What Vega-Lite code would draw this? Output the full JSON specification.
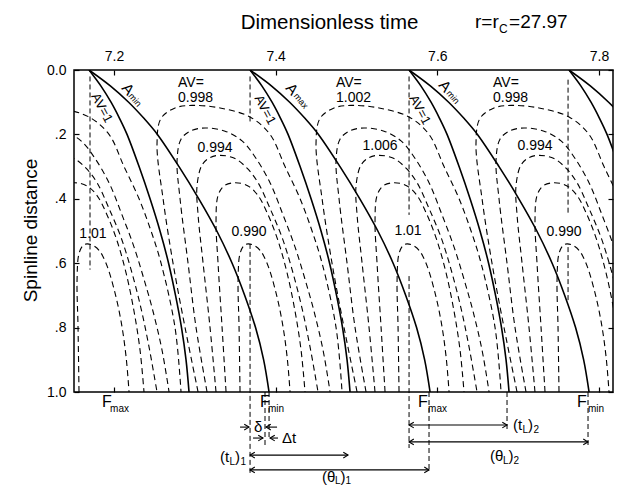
{
  "$schema": "https://vega.github.io/schema/vega-lite/v6.json",
  "width": 539,
  "height": 322,
  "autosize": {"type": "none"},
  "padding": {"left": 74, "top": 70, "right": 8, "bottom": 95},
  "background": "white",
  "config": {
    "font": "Liberation Sans",
    "view": {"stroke": "black", "strokeWidth": 1.5},
    "axis": {"domain": false, "grid": false, "tickColor": "black", "tickWidth": 1.2, "labelColor": "black", "titleColor": "black", "titleFontWeight": "normal"}
  },
  "datasets": {
    "solid": [
      {"c":"v1","t":7.1691,"d":0},{"c":"v1","t":7.1839,"d":0.05},{"c":"v1","t":7.1963,"d":0.1},{"c":"v1","t":7.2068,"d":0.15},{"c":"v1","t":7.2161,"d":0.2},{"c":"v1","t":7.231,"d":0.3},{"c":"v1","t":7.2446,"d":0.4},{"c":"v1","t":7.2569,"d":0.5},{"c":"v1","t":7.2675,"d":0.6},{"c":"v1","t":7.2761,"d":0.7},{"c":"v1","t":7.2835,"d":0.8},{"c":"v1","t":7.2891,"d":0.9},{"c":"v1","t":7.2928,"d":1},
      {"c":"a1","t":7.1691,"d":0},{"c":"a1","t":7.1958,"d":0.05},{"c":"a1","t":7.2181,"d":0.1},{"c":"a1","t":7.237,"d":0.15},{"c":"a1","t":7.2537,"d":0.2},{"c":"a1","t":7.2804,"d":0.3},{"c":"a1","t":7.3049,"d":0.4},{"c":"a1","t":7.3272,"d":0.5},{"c":"a1","t":7.3461,"d":0.6},{"c":"a1","t":7.3617,"d":0.7},{"c":"a1","t":7.3751,"d":0.8},{"c":"a1","t":7.3851,"d":0.9},{"c":"a1","t":7.3918,"d":1},
      {"c":"v2","t":7.3683,"d":0},{"c":"v2","t":7.3831,"d":0.05},{"c":"v2","t":7.3955,"d":0.1},{"c":"v2","t":7.406,"d":0.15},{"c":"v2","t":7.4153,"d":0.2},{"c":"v2","t":7.4302,"d":0.3},{"c":"v2","t":7.4438,"d":0.4},{"c":"v2","t":7.4561,"d":0.5},{"c":"v2","t":7.4667,"d":0.6},{"c":"v2","t":7.4753,"d":0.7},{"c":"v2","t":7.4827,"d":0.8},{"c":"v2","t":7.4883,"d":0.9},{"c":"v2","t":7.492,"d":1},
      {"c":"a2","t":7.3683,"d":0},{"c":"a2","t":7.395,"d":0.05},{"c":"a2","t":7.4173,"d":0.1},{"c":"a2","t":7.4362,"d":0.15},{"c":"a2","t":7.4529,"d":0.2},{"c":"a2","t":7.4796,"d":0.3},{"c":"a2","t":7.5041,"d":0.4},{"c":"a2","t":7.5264,"d":0.5},{"c":"a2","t":7.5453,"d":0.6},{"c":"a2","t":7.5609,"d":0.7},{"c":"a2","t":7.5743,"d":0.8},{"c":"a2","t":7.5843,"d":0.9},{"c":"a2","t":7.591,"d":1},
      {"c":"v3","t":7.565,"d":0},{"c":"v3","t":7.5798,"d":0.05},{"c":"v3","t":7.5922,"d":0.1},{"c":"v3","t":7.6027,"d":0.15},{"c":"v3","t":7.612,"d":0.2},{"c":"v3","t":7.6269,"d":0.3},{"c":"v3","t":7.6405,"d":0.4},{"c":"v3","t":7.6528,"d":0.5},{"c":"v3","t":7.6634,"d":0.6},{"c":"v3","t":7.672,"d":0.7},{"c":"v3","t":7.6794,"d":0.8},{"c":"v3","t":7.685,"d":0.9},{"c":"v3","t":7.6887,"d":1},
      {"c":"a3","t":7.565,"d":0},{"c":"a3","t":7.5917,"d":0.05},{"c":"a3","t":7.614,"d":0.1},{"c":"a3","t":7.6329,"d":0.15},{"c":"a3","t":7.6496,"d":0.2},{"c":"a3","t":7.6763,"d":0.3},{"c":"a3","t":7.7008,"d":0.4},{"c":"a3","t":7.7231,"d":0.5},{"c":"a3","t":7.742,"d":0.6},{"c":"a3","t":7.7576,"d":0.7},{"c":"a3","t":7.771,"d":0.8},{"c":"a3","t":7.781,"d":0.9},{"c":"a3","t":7.7877,"d":1},
      {"c":"v4","t":7.7629,"d":0},{"c":"v4","t":7.7777,"d":0.05},{"c":"v4","t":7.7901,"d":0.1},{"c":"v4","t":7.8006,"d":0.15},{"c":"v4","t":7.8099,"d":0.2},{"c":"v4","t":7.8248,"d":0.3},{"c":"v4","t":7.8384,"d":0.4},
      {"c":"a4","t":7.7629,"d":0},{"c":"a4","t":7.7896,"d":0.05},{"c":"a4","t":7.8119,"d":0.1},{"c":"a4","t":7.8308,"d":0.15},{"c":"a4","t":7.8475,"d":0.2}
    ],
    "contours": [
      {"c":"Z0","i":7,"t":7.0763,"d":0.118},{"c":"Z0","i":8,"t":7.0973,"d":0.11},{"c":"Z0","i":9,"t":7.132,"d":0.118},{"c":"Z0","i":10,"t":7.1691,"d":0.146},{"c":"Z0","i":11,"t":7.1938,"d":0.2},{"c":"Z0","i":12,"t":7.2124,"d":0.3},{"c":"Z0","i":13,"t":7.231,"d":0.4},{"c":"Z0","i":14,"t":7.2458,"d":0.5},{"c":"Z0","i":15,"t":7.2582,"d":0.6},{"c":"Z0","i":16,"t":7.2755,"d":0.8},{"c":"Z0","i":17,"t":7.2829,"d":1},
      {"c":"Z1","i":7,"t":7.0949,"d":0.19},{"c":"Z1","i":8,"t":7.1134,"d":0.18},{"c":"Z1","i":9,"t":7.1382,"d":0.19},{"c":"Z1","i":10,"t":7.1592,"d":0.22},{"c":"Z1","i":11,"t":7.1753,"d":0.27},{"c":"Z1","i":12,"t":7.1938,"d":0.35},{"c":"Z1","i":13,"t":7.2099,"d":0.45},{"c":"Z1","i":14,"t":7.2248,"d":0.55},{"c":"Z1","i":15,"t":7.2371,"d":0.65},{"c":"Z1","i":16,"t":7.2483,"d":0.75},{"c":"Z1","i":17,"t":7.2594,"d":0.87},{"c":"Z1","i":18,"t":7.2681,"d":1},
      {"c":"Z2","i":7,"t":7.1196,"d":0.272},{"c":"Z2","i":8,"t":7.132,"d":0.265},{"c":"Z2","i":9,"t":7.1505,"d":0.275},{"c":"Z2","i":10,"t":7.1654,"d":0.305},{"c":"Z2","i":11,"t":7.179,"d":0.35},{"c":"Z2","i":12,"t":7.1938,"d":0.43},{"c":"Z2","i":13,"t":7.2087,"d":0.52},{"c":"Z2","i":14,"t":7.2211,"d":0.62},{"c":"Z2","i":15,"t":7.2334,"d":0.74},{"c":"Z2","i":16,"t":7.2433,"d":0.86},{"c":"Z2","i":17,"t":7.2532,"d":1},
      {"c":"Z3","i":5,"t":7.1295,"d":0.39},{"c":"Z3","i":6,"t":7.1369,"d":0.36},{"c":"Z3","i":7,"t":7.1505,"d":0.35},{"c":"Z3","i":8,"t":7.1666,"d":0.36},{"c":"Z3","i":9,"t":7.179,"d":0.39},{"c":"Z3","i":10,"t":7.1914,"d":0.45},{"c":"Z3","i":11,"t":7.2037,"d":0.53},{"c":"Z3","i":12,"t":7.2149,"d":0.63},{"c":"Z3","i":13,"t":7.2248,"d":0.75},{"c":"Z3","i":14,"t":7.2322,"d":0.87},{"c":"Z3","i":15,"t":7.2371,"d":1},
      {"c":"Z4","i":1,"t":7.1567,"d":1},{"c":"Z4","i":2,"t":7.1555,"d":0.8},{"c":"Z4","i":3,"t":7.1543,"d":0.65},{"c":"Z4","i":4,"t":7.1567,"d":0.57},{"c":"Z4","i":5,"t":7.1617,"d":0.545},{"c":"Z4","i":6,"t":7.1666,"d":0.54},{"c":"Z4","i":7,"t":7.174,"d":0.545},{"c":"Z4","i":8,"t":7.1815,"d":0.56},{"c":"Z4","i":9,"t":7.1901,"d":0.6},{"c":"Z4","i":10,"t":7.2,"d":0.68},{"c":"Z4","i":11,"t":7.2087,"d":0.78},{"c":"Z4","i":12,"t":7.2149,"d":0.89},{"c":"Z4","i":13,"t":7.2186,"d":1},

      {"c":"A0","i":1,"t":7.304,"d":1},{"c":"A0","i":2,"t":7.2879,"d":0.8},{"c":"A0","i":3,"t":7.273,"d":0.6},{"c":"A0","i":4,"t":7.2607,"d":0.4},{"c":"A0","i":5,"t":7.2532,"d":0.23},{"c":"A0","i":6,"t":7.2582,"d":0.15},{"c":"A0","i":7,"t":7.2755,"d":0.118},{"c":"A0","i":8,"t":7.2965,"d":0.11},{"c":"A0","i":9,"t":7.3312,"d":0.118},{"c":"A0","i":10,"t":7.3683,"d":0.146},{"c":"A0","i":11,"t":7.393,"d":0.2},{"c":"A0","i":12,"t":7.4116,"d":0.3},{"c":"A0","i":13,"t":7.4302,"d":0.4},{"c":"A0","i":14,"t":7.445,"d":0.5},{"c":"A0","i":15,"t":7.4574,"d":0.6},{"c":"A0","i":16,"t":7.4747,"d":0.8},{"c":"A0","i":17,"t":7.4821,"d":1},
      {"c":"A1","i":1,"t":7.3151,"d":1},{"c":"A1","i":2,"t":7.3015,"d":0.8},{"c":"A1","i":3,"t":7.2916,"d":0.6},{"c":"A1","i":4,"t":7.2817,"d":0.4},{"c":"A1","i":5,"t":7.278,"d":0.28},{"c":"A1","i":6,"t":7.2829,"d":0.215},{"c":"A1","i":7,"t":7.2941,"d":0.19},{"c":"A1","i":8,"t":7.3126,"d":0.18},{"c":"A1","i":9,"t":7.3374,"d":0.19},{"c":"A1","i":10,"t":7.3584,"d":0.22},{"c":"A1","i":11,"t":7.3745,"d":0.27},{"c":"A1","i":12,"t":7.393,"d":0.35},{"c":"A1","i":13,"t":7.4091,"d":0.45},{"c":"A1","i":14,"t":7.424,"d":0.55},{"c":"A1","i":15,"t":7.4363,"d":0.65},{"c":"A1","i":16,"t":7.4475,"d":0.75},{"c":"A1","i":17,"t":7.4586,"d":0.87},{"c":"A1","i":18,"t":7.4673,"d":1},
      {"c":"A2","i":1,"t":7.3262,"d":1},{"c":"A2","i":2,"t":7.3188,"d":0.8},{"c":"A2","i":3,"t":7.3102,"d":0.6},{"c":"A2","i":4,"t":7.304,"d":0.45},{"c":"A2","i":5,"t":7.3027,"d":0.36},{"c":"A2","i":6,"t":7.3089,"d":0.295},{"c":"A2","i":7,"t":7.3188,"d":0.272},{"c":"A2","i":8,"t":7.3312,"d":0.265},{"c":"A2","i":9,"t":7.3497,"d":0.275},{"c":"A2","i":10,"t":7.3646,"d":0.305},{"c":"A2","i":11,"t":7.3782,"d":0.35},{"c":"A2","i":12,"t":7.393,"d":0.43},{"c":"A2","i":13,"t":7.4079,"d":0.52},{"c":"A2","i":14,"t":7.4203,"d":0.62},{"c":"A2","i":15,"t":7.4326,"d":0.74},{"c":"A2","i":16,"t":7.4425,"d":0.86},{"c":"A2","i":17,"t":7.4524,"d":1},
      {"c":"A3","i":1,"t":7.3386,"d":1},{"c":"A3","i":2,"t":7.3337,"d":0.8},{"c":"A3","i":3,"t":7.3287,"d":0.6},{"c":"A3","i":4,"t":7.3262,"d":0.47},{"c":"A3","i":5,"t":7.3287,"d":0.39},{"c":"A3","i":6,"t":7.3361,"d":0.36},{"c":"A3","i":7,"t":7.3497,"d":0.35},{"c":"A3","i":8,"t":7.3658,"d":0.36},{"c":"A3","i":9,"t":7.3782,"d":0.39},{"c":"A3","i":10,"t":7.3906,"d":0.45},{"c":"A3","i":11,"t":7.4029,"d":0.53},{"c":"A3","i":12,"t":7.4141,"d":0.63},{"c":"A3","i":13,"t":7.424,"d":0.75},{"c":"A3","i":14,"t":7.4314,"d":0.87},{"c":"A3","i":15,"t":7.4363,"d":1},
      {"c":"A4","i":1,"t":7.3559,"d":1},{"c":"A4","i":2,"t":7.3547,"d":0.8},{"c":"A4","i":3,"t":7.3535,"d":0.65},{"c":"A4","i":4,"t":7.3559,"d":0.57},{"c":"A4","i":5,"t":7.3609,"d":0.545},{"c":"A4","i":6,"t":7.3658,"d":0.54},{"c":"A4","i":7,"t":7.3732,"d":0.545},{"c":"A4","i":8,"t":7.3807,"d":0.56},{"c":"A4","i":9,"t":7.3893,"d":0.6},{"c":"A4","i":10,"t":7.3992,"d":0.68},{"c":"A4","i":11,"t":7.4079,"d":0.78},{"c":"A4","i":12,"t":7.4141,"d":0.89},{"c":"A4","i":13,"t":7.4178,"d":1},

      {"c":"B0","i":1,"t":7.5007,"d":1},{"c":"B0","i":2,"t":7.4846,"d":0.8},{"c":"B0","i":3,"t":7.4697,"d":0.6},{"c":"B0","i":4,"t":7.4574,"d":0.4},{"c":"B0","i":5,"t":7.4499,"d":0.23},{"c":"B0","i":6,"t":7.4549,"d":0.15},{"c":"B0","i":7,"t":7.4722,"d":0.118},{"c":"B0","i":8,"t":7.4932,"d":0.11},{"c":"B0","i":9,"t":7.5279,"d":0.118},{"c":"B0","i":10,"t":7.565,"d":0.146},{"c":"B0","i":11,"t":7.5897,"d":0.2},{"c":"B0","i":12,"t":7.6083,"d":0.3},{"c":"B0","i":13,"t":7.6269,"d":0.4},{"c":"B0","i":14,"t":7.6417,"d":0.5},{"c":"B0","i":15,"t":7.6541,"d":0.6},{"c":"B0","i":16,"t":7.6714,"d":0.8},{"c":"B0","i":17,"t":7.6788,"d":1},
      {"c":"B1","i":1,"t":7.5118,"d":1},{"c":"B1","i":2,"t":7.4982,"d":0.8},{"c":"B1","i":3,"t":7.4883,"d":0.6},{"c":"B1","i":4,"t":7.4784,"d":0.4},{"c":"B1","i":5,"t":7.4747,"d":0.28},{"c":"B1","i":6,"t":7.4796,"d":0.215},{"c":"B1","i":7,"t":7.4908,"d":0.19},{"c":"B1","i":8,"t":7.5093,"d":0.18},{"c":"B1","i":9,"t":7.5341,"d":0.19},{"c":"B1","i":10,"t":7.5551,"d":0.22},{"c":"B1","i":11,"t":7.5712,"d":0.27},{"c":"B1","i":12,"t":7.5897,"d":0.35},{"c":"B1","i":13,"t":7.6058,"d":0.45},{"c":"B1","i":14,"t":7.6207,"d":0.55},{"c":"B1","i":15,"t":7.633,"d":0.65},{"c":"B1","i":16,"t":7.6442,"d":0.75},{"c":"B1","i":17,"t":7.6553,"d":0.87},{"c":"B1","i":18,"t":7.664,"d":1},
      {"c":"B2","i":1,"t":7.5229,"d":1},{"c":"B2","i":2,"t":7.5155,"d":0.8},{"c":"B2","i":3,"t":7.5069,"d":0.6},{"c":"B2","i":4,"t":7.5007,"d":0.45},{"c":"B2","i":5,"t":7.4994,"d":0.36},{"c":"B2","i":6,"t":7.5056,"d":0.295},{"c":"B2","i":7,"t":7.5155,"d":0.272},{"c":"B2","i":8,"t":7.5279,"d":0.265},{"c":"B2","i":9,"t":7.5464,"d":0.275},{"c":"B2","i":10,"t":7.5613,"d":0.305},{"c":"B2","i":11,"t":7.5749,"d":0.35},{"c":"B2","i":12,"t":7.5897,"d":0.43},{"c":"B2","i":13,"t":7.6046,"d":0.52},{"c":"B2","i":14,"t":7.617,"d":0.62},{"c":"B2","i":15,"t":7.6293,"d":0.74},{"c":"B2","i":16,"t":7.6392,"d":0.86},{"c":"B2","i":17,"t":7.6491,"d":1},
      {"c":"B3","i":1,"t":7.5353,"d":1},{"c":"B3","i":2,"t":7.5304,"d":0.8},{"c":"B3","i":3,"t":7.5254,"d":0.6},{"c":"B3","i":4,"t":7.5229,"d":0.47},{"c":"B3","i":5,"t":7.5254,"d":0.39},{"c":"B3","i":6,"t":7.5328,"d":0.36},{"c":"B3","i":7,"t":7.5464,"d":0.35},{"c":"B3","i":8,"t":7.5625,"d":0.36},{"c":"B3","i":9,"t":7.5749,"d":0.39},{"c":"B3","i":10,"t":7.5873,"d":0.45},{"c":"B3","i":11,"t":7.5996,"d":0.53},{"c":"B3","i":12,"t":7.6108,"d":0.63},{"c":"B3","i":13,"t":7.6207,"d":0.75},{"c":"B3","i":14,"t":7.6281,"d":0.87},{"c":"B3","i":15,"t":7.633,"d":1},
      {"c":"B4","i":1,"t":7.5526,"d":1},{"c":"B4","i":2,"t":7.5514,"d":0.8},{"c":"B4","i":3,"t":7.5502,"d":0.65},{"c":"B4","i":4,"t":7.5526,"d":0.57},{"c":"B4","i":5,"t":7.5576,"d":0.545},{"c":"B4","i":6,"t":7.5625,"d":0.54},{"c":"B4","i":7,"t":7.5699,"d":0.545},{"c":"B4","i":8,"t":7.5774,"d":0.56},{"c":"B4","i":9,"t":7.586,"d":0.6},{"c":"B4","i":10,"t":7.5959,"d":0.68},{"c":"B4","i":11,"t":7.6046,"d":0.78},{"c":"B4","i":12,"t":7.6108,"d":0.89},{"c":"B4","i":13,"t":7.6145,"d":1},

      {"c":"C0","i":1,"t":7.6986,"d":1},{"c":"C0","i":2,"t":7.6825,"d":0.8},{"c":"C0","i":3,"t":7.6676,"d":0.6},{"c":"C0","i":4,"t":7.6553,"d":0.4},{"c":"C0","i":5,"t":7.6478,"d":0.23},{"c":"C0","i":6,"t":7.6528,"d":0.15},{"c":"C0","i":7,"t":7.6701,"d":0.118},{"c":"C0","i":8,"t":7.6911,"d":0.11},{"c":"C0","i":9,"t":7.7258,"d":0.118},{"c":"C0","i":10,"t":7.7629,"d":0.146},{"c":"C0","i":11,"t":7.7876,"d":0.2},{"c":"C0","i":12,"t":7.8062,"d":0.3},{"c":"C0","i":13,"t":7.8248,"d":0.4},{"c":"C0","i":14,"t":7.8396,"d":0.5},{"c":"C0","i":15,"t":7.852,"d":0.6},{"c":"C0","i":16,"t":7.8693,"d":0.8},{"c":"C0","i":17,"t":7.8767,"d":1},
      {"c":"C1","i":1,"t":7.7097,"d":1},{"c":"C1","i":2,"t":7.6961,"d":0.8},{"c":"C1","i":3,"t":7.6862,"d":0.6},{"c":"C1","i":4,"t":7.6763,"d":0.4},{"c":"C1","i":5,"t":7.6726,"d":0.28},{"c":"C1","i":6,"t":7.6775,"d":0.215},{"c":"C1","i":7,"t":7.6887,"d":0.19},{"c":"C1","i":8,"t":7.7072,"d":0.18},{"c":"C1","i":9,"t":7.732,"d":0.19},{"c":"C1","i":10,"t":7.753,"d":0.22},{"c":"C1","i":11,"t":7.7691,"d":0.27},{"c":"C1","i":12,"t":7.7876,"d":0.35},{"c":"C1","i":13,"t":7.8037,"d":0.45},{"c":"C1","i":14,"t":7.8186,"d":0.55},{"c":"C1","i":15,"t":7.8309,"d":0.65},{"c":"C1","i":16,"t":7.8421,"d":0.75},{"c":"C1","i":17,"t":7.8532,"d":0.87},{"c":"C1","i":18,"t":7.8619,"d":1},
      {"c":"C2","i":1,"t":7.7208,"d":1},{"c":"C2","i":2,"t":7.7134,"d":0.8},{"c":"C2","i":3,"t":7.7048,"d":0.6},{"c":"C2","i":4,"t":7.6986,"d":0.45},{"c":"C2","i":5,"t":7.6973,"d":0.36},{"c":"C2","i":6,"t":7.7035,"d":0.295},{"c":"C2","i":7,"t":7.7134,"d":0.272},{"c":"C2","i":8,"t":7.7258,"d":0.265},{"c":"C2","i":9,"t":7.7443,"d":0.275},{"c":"C2","i":10,"t":7.7592,"d":0.305},{"c":"C2","i":11,"t":7.7728,"d":0.35},{"c":"C2","i":12,"t":7.7876,"d":0.43},{"c":"C2","i":13,"t":7.8025,"d":0.52},{"c":"C2","i":14,"t":7.8149,"d":0.62},{"c":"C2","i":15,"t":7.8272,"d":0.74},{"c":"C2","i":16,"t":7.8371,"d":0.86},{"c":"C2","i":17,"t":7.847,"d":1},
      {"c":"C3","i":1,"t":7.7332,"d":1},{"c":"C3","i":2,"t":7.7283,"d":0.8},{"c":"C3","i":3,"t":7.7233,"d":0.6},{"c":"C3","i":4,"t":7.7208,"d":0.47},{"c":"C3","i":5,"t":7.7233,"d":0.39},{"c":"C3","i":6,"t":7.7307,"d":0.36},{"c":"C3","i":7,"t":7.7443,"d":0.35},{"c":"C3","i":8,"t":7.7604,"d":0.36},{"c":"C3","i":9,"t":7.7728,"d":0.39},{"c":"C3","i":10,"t":7.7852,"d":0.45},{"c":"C3","i":11,"t":7.7975,"d":0.53},{"c":"C3","i":12,"t":7.8087,"d":0.63},{"c":"C3","i":13,"t":7.8186,"d":0.75},{"c":"C3","i":14,"t":7.826,"d":0.87},{"c":"C3","i":15,"t":7.8309,"d":1},
      {"c":"C4","i":1,"t":7.7505,"d":1},{"c":"C4","i":2,"t":7.7493,"d":0.8},{"c":"C4","i":3,"t":7.7481,"d":0.65},{"c":"C4","i":4,"t":7.7505,"d":0.57},{"c":"C4","i":5,"t":7.7555,"d":0.545},{"c":"C4","i":6,"t":7.7604,"d":0.54},{"c":"C4","i":7,"t":7.7678,"d":0.545},{"c":"C4","i":8,"t":7.7753,"d":0.56},{"c":"C4","i":9,"t":7.7839,"d":0.6},{"c":"C4","i":10,"t":7.7938,"d":0.68},{"c":"C4","i":11,"t":7.8025,"d":0.78},{"c":"C4","i":12,"t":7.8087,"d":0.89},{"c":"C4","i":13,"t":7.8124,"d":1}
    ],
    "guides": [
      {"g":"g1","t":7.1703,"d":0.02},{"g":"g1","t":7.1703,"d":0.62},
      {"g":"g2a","t":7.3683,"d":0.02},{"g":"g2a","t":7.3683,"d":0.16},
      {"g":"g2b","t":7.3683,"d":0.54},{"g":"g2b","t":7.3683,"d":1.258},
      {"g":"g3a","t":7.565,"d":0.02},{"g":"g3a","t":7.565,"d":0.45},
      {"g":"g3b","t":7.565,"d":0.64},{"g":"g3b","t":7.565,"d":1.174},
      {"g":"g4a","t":7.7617,"d":0.03},{"g":"g4a","t":7.7617,"d":0.45},
      {"g":"g4b","t":7.7617,"d":0.55},{"g":"g4b","t":7.7617,"d":0.72},
      {"g":"f1","t":7.3868,"d":1},{"g":"f1","t":7.3868,"d":1.171},
      {"g":"f2","t":7.3918,"d":1},{"g":"f2","t":7.3918,"d":1.14},
      {"g":"f3","t":7.5897,"d":1},{"g":"f3","t":7.5897,"d":1.248},
      {"g":"f4","t":7.6862,"d":1},{"g":"f4","t":7.6862,"d":1.124},
      {"g":"f5","t":7.7864,"d":1},{"g":"f5","t":7.7864,"d":1.165}
    ],
    "arrows": [
      {"t0":7.3683,"t1":7.4895,"d":1.196,"head":"both"},
      {"t0":7.3683,"t1":7.5897,"d":1.242,"head":"both"},
      {"t0":7.565,"t1":7.6862,"d":1.1025,"head":"both"},
      {"t0":7.565,"t1":7.7864,"d":1.155,"head":"both"},
      {"t0":7.3559,"t1":7.367,"d":1.109,"head":"right"},
      {"t0":7.3881,"t1":7.4017,"d":1.109,"head":"left"},
      {"t0":7.372,"t1":7.3843,"d":1.143,"head":"right"},
      {"t0":7.393,"t1":7.4029,"d":1.143,"head":"left"}
    ],
    "levels": [
      {"t":7.2792,"d":0.04,"s":"AV=","k":"head"},{"t":7.2792,"d":0.087,"s":"0.998","k":"head"},
      {"t":7.4746,"d":0.04,"s":"AV=","k":"head"},{"t":7.4746,"d":0.087,"s":"1.002","k":"head"},
      {"t":7.6689,"d":0.04,"s":"AV=","k":"head"},{"t":7.6689,"d":0.087,"s":"0.998","k":"head"},
      {"t":7.325,"d":0.242,"s":"0.994","k":"level"},{"t":7.5291,"d":0.236,"s":"1.006","k":"level"},{"t":7.7209,"d":0.236,"s":"0.994","k":"level"},
      {"t":7.174,"d":0.509,"s":"1.01","k":"level"},{"t":7.367,"d":0.503,"s":"0.990","k":"level"},{"t":7.5637,"d":0.5,"s":"1.01","k":"level"},{"t":7.7567,"d":0.503,"s":"0.990","k":"level"},
      {"t":7.1851,"d":0.118,"s":"AV=1","k":"av1"},{"t":7.3868,"d":0.124,"s":"AV=1","k":"av1"},{"t":7.5785,"d":0.124,"s":"AV=1","k":"av1"},
      {"t":7.2173,"d":0.059,"s":"A","k":"a"},{"t":7.4202,"d":0.059,"s":"A","k":"a"},{"t":7.6095,"d":0.05,"s":"A","k":"a"},
      {"t":7.226,"d":0.093,"s":"min","k":"asub"},{"t":7.4314,"d":0.096,"s":"max","k":"asub"},{"t":7.6194,"d":0.084,"s":"min","k":"asub"}
    ],
    "notes": [
      {"t":7.1852,"d":1.031,"s":"F","p":"big"},{"t":7.1951,"d":1.053,"s":"max","p":"sub"},
      {"t":7.3806,"d":1.031,"s":"F","p":"big"},{"t":7.3905,"d":1.053,"s":"min","p":"sub"},
      {"t":7.5761,"d":1.031,"s":"F","p":"big"},{"t":7.5885,"d":1.053,"s":"max","p":"sub"},
      {"t":7.7728,"d":1.031,"s":"F","p":"big"},{"t":7.7864,"d":1.053,"s":"min","p":"sub"},
      {"t":7.3732,"d":1.109,"s":"δ","p":"base"},
      {"t":7.4079,"d":1.143,"s":"Δt","p":"base"},
      {"t":7.3312,"d":1.202,"s":"(t","p":"base"},{"t":7.3429,"d":1.217,"s":"L","p":"sub"},{"t":7.3497,"d":1.202,"s":")","p":"base"},{"t":7.3565,"d":1.217,"s":"1","p":"sub"},
      {"t":7.4573,"d":1.265,"s":"(θ","p":"base"},{"t":7.4734,"d":1.277,"s":"L","p":"sub"},{"t":7.4802,"d":1.265,"s":")","p":"base"},{"t":7.4864,"d":1.277,"s":"1","p":"sub"},
      {"t":7.6936,"d":1.1025,"s":"(t","p":"base"},{"t":7.7054,"d":1.118,"s":"L","p":"sub"},{"t":7.7122,"d":1.1025,"s":")","p":"base"},{"t":7.719,"d":1.118,"s":"2","p":"sub"},
      {"t":7.6652,"d":1.199,"s":"(θ","p":"base"},{"t":7.6813,"d":1.214,"s":"L","p":"sub"},{"t":7.6881,"d":1.199,"s":")","p":"base"},{"t":7.6943,"d":1.214,"s":"2","p":"sub"},
      {"t":7.6466,"d":-0.149,"s":"r=r","p":"top"},{"t":7.6763,"d":-0.128,"s":"C","p":"topsub"},{"t":7.6887,"d":-0.149,"s":"=27.97","p":"top"}
    ]
  },
  "layer": [
    {
      "data": {"name": "solid"},
      "mark": {"type": "line", "stroke": "black", "strokeWidth": 1.6, "interpolate": "catmull-rom", "clip": true},
      "encoding": {
        "x": {"field": "t", "type": "quantitative", "scale": {"domain": [7.1505, 7.8173], "nice": false, "zero": false},
          "axis": {"orient": "top", "values": [7.2, 7.4, 7.6, 7.8], "format": ".1f", "labelFontSize": 14, "labelPadding": 12, "tickSize": -5,
            "title": "Dimensionless time", "titleFontSize": 20.5, "titleX": 255, "titleY": -48, "titleBaseline": "middle", "titleAlign": "center"}},
        "y": {"field": "d", "type": "quantitative", "scale": {"domain": [0, 1], "reverse": true, "nice": false, "zero": false},
          "axis": {"orient": "left", "values": [0, 0.2, 0.4, 0.6, 0.8, 1], "labelExpr": "datum.value == 0 ? '0.0' : datum.value == 1 ? '1.0' : '.' + round(datum.value * 10)",
            "labelFontSize": 14, "labelPadding": 13, "tickSize": -5,
            "title": "Spinline distance", "titleFontSize": 19, "titleX": -44, "titleY": 160, "titleAngle": 270, "titleBaseline": "middle", "titleAlign": "center"}},
        "detail": {"field": "c"},
        "order": {"field": "d", "type": "quantitative"}
      }
    },
    {
      "data": {"name": "contours"},
      "mark": {"type": "line", "stroke": "black", "strokeWidth": 1.1, "strokeDash": [6, 4], "interpolate": "catmull-rom", "clip": true},
      "encoding": {
        "x": {"field": "t", "type": "quantitative", "scale": {"domain": [7.1505, 7.8173], "nice": false, "zero": false},
          "axis": {"orient": "bottom", "values": [7.2, 7.4, 7.6, 7.8], "labels": false, "tickSize": -5, "title": null}},
        "y": {"field": "d", "type": "quantitative", "scale": {"domain": [0, 1], "reverse": true, "nice": false, "zero": false},
          "axis": {"orient": "right", "values": [0, 0.2, 0.4, 0.6, 0.8, 1], "labels": false, "tickSize": -5, "title": null}},
        "detail": {"field": "c"},
        "order": {"field": "i", "type": "quantitative"}
      }
    },
    {
      "data": {"name": "guides"},
      "mark": {"type": "line", "stroke": "black", "strokeWidth": 1, "strokeDash": [5, 3]},
      "encoding": {
        "x": {"field": "t", "type": "quantitative", "scale": {"domain": [7.1505, 7.8173], "nice": false, "zero": false}, "axis": null},
        "y": {"field": "d", "type": "quantitative", "scale": {"domain": [0, 1], "reverse": true, "nice": false, "zero": false}, "axis": null},
        "detail": {"field": "g"},
        "order": {"field": "d", "type": "quantitative"}
      }
    },
    {
      "data": {"name": "arrows"},
      "mark": {"type": "rule", "stroke": "black", "strokeWidth": 1.1},
      "encoding": {
        "x": {"field": "t0", "type": "quantitative", "scale": {"domain": [7.1505, 7.8173], "nice": false, "zero": false}, "axis": null},
        "x2": {"field": "t1"},
        "y": {"field": "d", "type": "quantitative", "scale": {"domain": [0, 1], "reverse": true, "nice": false, "zero": false}, "axis": null}
      }
    },
    {
      "data": {"name": "arrows"},
      "transform": [{"filter": "datum.head != 'left'"}],
      "mark": {"type": "point", "shape": "M -1 -0.6 L 0 0 L -1 0.6", "filled": false, "stroke": "black", "strokeWidth": 1.1, "size": 90, "opacity": 1},
      "encoding": {
        "x": {"field": "t1", "type": "quantitative", "scale": {"domain": [7.1505, 7.8173], "nice": false, "zero": false}, "axis": null},
        "y": {"field": "d", "type": "quantitative", "scale": {"domain": [0, 1], "reverse": true, "nice": false, "zero": false}, "axis": null}
      }
    },
    {
      "data": {"name": "arrows"},
      "transform": [{"filter": "datum.head != 'right'"}],
      "mark": {"type": "point", "shape": "M 1 -0.6 L 0 0 L 1 0.6", "filled": false, "stroke": "black", "strokeWidth": 1.1, "size": 90, "opacity": 1},
      "encoding": {
        "x": {"field": "t0", "type": "quantitative", "scale": {"domain": [7.1505, 7.8173], "nice": false, "zero": false}, "axis": null},
        "y": {"field": "d", "type": "quantitative", "scale": {"domain": [0, 1], "reverse": true, "nice": false, "zero": false}, "axis": null}
      }
    },
    {
      "data": {"name": "levels"},
      "transform": [{"filter": "datum.k == 'head'"}],
      "mark": {"type": "text", "align": "left", "baseline": "middle", "fontSize": 14, "color": "black"},
      "encoding": {
        "x": {"field": "t", "type": "quantitative", "scale": {"domain": [7.1505, 7.8173], "nice": false, "zero": false}, "axis": null},
        "y": {"field": "d", "type": "quantitative", "scale": {"domain": [0, 1], "reverse": true, "nice": false, "zero": false}, "axis": null},
        "text": {"field": "s"}
      }
    },
    {
      "data": {"name": "levels"},
      "transform": [{"filter": "datum.k == 'level'"}],
      "mark": {"type": "text", "align": "center", "baseline": "middle", "fontSize": 14, "color": "black"},
      "encoding": {
        "x": {"field": "t", "type": "quantitative", "scale": {"domain": [7.1505, 7.8173], "nice": false, "zero": false}, "axis": null},
        "y": {"field": "d", "type": "quantitative", "scale": {"domain": [0, 1], "reverse": true, "nice": false, "zero": false}, "axis": null},
        "text": {"field": "s"}
      }
    },
    {
      "data": {"name": "levels"},
      "transform": [{"filter": "datum.k == 'av1'"}],
      "mark": {"type": "text", "align": "center", "baseline": "middle", "fontSize": 13, "angle": 62, "color": "black"},
      "encoding": {
        "x": {"field": "t", "type": "quantitative", "scale": {"domain": [7.1505, 7.8173], "nice": false, "zero": false}, "axis": null},
        "y": {"field": "d", "type": "quantitative", "scale": {"domain": [0, 1], "reverse": true, "nice": false, "zero": false}, "axis": null},
        "text": {"field": "s"}
      }
    },
    {
      "data": {"name": "levels"},
      "transform": [{"filter": "datum.k == 'a'"}],
      "mark": {"type": "text", "align": "center", "baseline": "middle", "fontSize": 15, "angle": 50, "color": "black"},
      "encoding": {
        "x": {"field": "t", "type": "quantitative", "scale": {"domain": [7.1505, 7.8173], "nice": false, "zero": false}, "axis": null},
        "y": {"field": "d", "type": "quantitative", "scale": {"domain": [0, 1], "reverse": true, "nice": false, "zero": false}, "axis": null},
        "text": {"field": "s"}
      }
    },
    {
      "data": {"name": "levels"},
      "transform": [{"filter": "datum.k == 'asub'"}],
      "mark": {"type": "text", "align": "center", "baseline": "middle", "fontSize": 9, "angle": 50, "color": "black"},
      "encoding": {
        "x": {"field": "t", "type": "quantitative", "scale": {"domain": [7.1505, 7.8173], "nice": false, "zero": false}, "axis": null},
        "y": {"field": "d", "type": "quantitative", "scale": {"domain": [0, 1], "reverse": true, "nice": false, "zero": false}, "axis": null},
        "text": {"field": "s"}
      }
    },
    {
      "data": {"name": "notes"},
      "transform": [{"filter": "datum.p == 'big'"}],
      "mark": {"type": "text", "align": "left", "baseline": "middle", "fontSize": 16, "color": "black"},
      "encoding": {
        "x": {"field": "t", "type": "quantitative", "scale": {"domain": [7.1505, 7.8173], "nice": false, "zero": false}, "axis": null},
        "y": {"field": "d", "type": "quantitative", "scale": {"domain": [0, 1], "reverse": true, "nice": false, "zero": false}, "axis": null},
        "text": {"field": "s"}
      }
    },
    {
      "data": {"name": "notes"},
      "transform": [{"filter": "datum.p == 'base'"}],
      "mark": {"type": "text", "align": "left", "baseline": "middle", "fontSize": 15, "color": "black"},
      "encoding": {
        "x": {"field": "t", "type": "quantitative", "scale": {"domain": [7.1505, 7.8173], "nice": false, "zero": false}, "axis": null},
        "y": {"field": "d", "type": "quantitative", "scale": {"domain": [0, 1], "reverse": true, "nice": false, "zero": false}, "axis": null},
        "text": {"field": "s"}
      }
    },
    {
      "data": {"name": "notes"},
      "transform": [{"filter": "datum.p == 'sub'"}],
      "mark": {"type": "text", "align": "left", "baseline": "middle", "fontSize": 10, "color": "black"},
      "encoding": {
        "x": {"field": "t", "type": "quantitative", "scale": {"domain": [7.1505, 7.8173], "nice": false, "zero": false}, "axis": null},
        "y": {"field": "d", "type": "quantitative", "scale": {"domain": [0, 1], "reverse": true, "nice": false, "zero": false}, "axis": null},
        "text": {"field": "s"}
      }
    },
    {
      "data": {"name": "notes"},
      "transform": [{"filter": "datum.p == 'top'"}],
      "mark": {"type": "text", "align": "left", "baseline": "middle", "fontSize": 19, "color": "black"},
      "encoding": {
        "x": {"field": "t", "type": "quantitative", "scale": {"domain": [7.1505, 7.8173], "nice": false, "zero": false}, "axis": null},
        "y": {"field": "d", "type": "quantitative", "scale": {"domain": [0, 1], "reverse": true, "nice": false, "zero": false}, "axis": null},
        "text": {"field": "s"}
      }
    },
    {
      "data": {"name": "notes"},
      "transform": [{"filter": "datum.p == 'topsub'"}],
      "mark": {"type": "text", "align": "left", "baseline": "middle", "fontSize": 12, "color": "black"},
      "encoding": {
        "x": {"field": "t", "type": "quantitative", "scale": {"domain": [7.1505, 7.8173], "nice": false, "zero": false}, "axis": null},
        "y": {"field": "d", "type": "quantitative", "scale": {"domain": [0, 1], "reverse": true, "nice": false, "zero": false}, "axis": null},
        "text": {"field": "s"}
      }
    }
  ],
  "resolve": {"axis": {"x": "independent", "y": "independent"}}
}
